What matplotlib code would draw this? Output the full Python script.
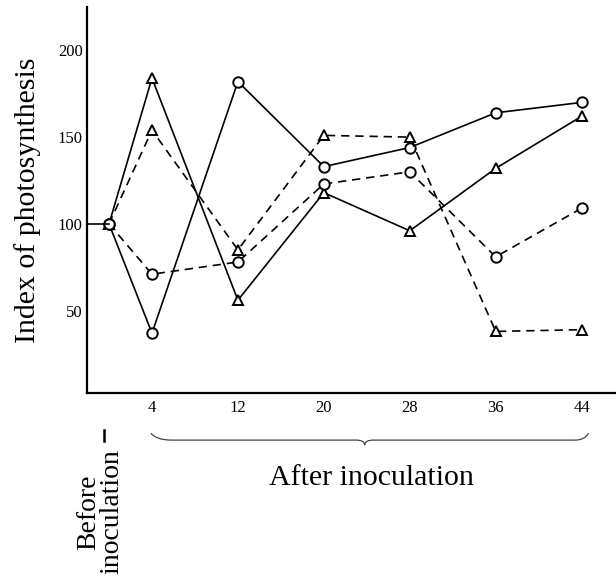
import matplotlib
matplotlib.use('Agg')
import matplotlib.pyplot as plt
from matplotlib.path import Path
from matplotlib.patches import PathPatch
import matplotlib.transforms as mtransforms

plt.rcParams['font.family'] = ['Liberation Serif', 'DejaVu Serif']

# hours (0 = before inoculation)
days = [0, 4, 12, 20, 28, 36, 44]
tick_days = [4, 12, 20, 28, 36, 44]
y_ticks = [50, 100, 150, 200]

solid_circle = [100, 37, 182, 133, 144, 164, 170]
solid_tri = [100, 184, 56, 118, 96, 132, 162]
dashed_tri = [100, 154, 85, 151, 150, 38, 39]
dashed_circle = [100, 71, 78, 123, 130, 81, 109]

fig = plt.figure(figsize=(6.16, 5.76), dpi=100)
ax = fig.add_axes([87 / 616, 183 / 576, 529 / 616, 386 / 576])

lw = 1.2
dash = (5, 3.5)
mk = dict(markersize=7.5, markerfacecolor='white', markeredgecolor='black',
          markeredgewidth=1.4, color='black', lw=lw, clip_on=False)

ax.plot(days, solid_circle, marker='o', ls='-', **mk)
ax.plot(days, solid_tri, marker='^', ls='-', **mk)
ax.plot(days, dashed_tri, marker='^', ls=(0, dash), **mk)
ax.plot(days, dashed_circle, marker='o', ls=(0, dash), **mk)

ax.set_xlim(-2.05, 47.2)
ax.set_ylim(2.5, 225)

# short lead-in line from the axis to the "before" point
x0 = ax.get_xlim()[0]
ax.plot([x0, days[0]], [solid_circle[0], solid_circle[0]], color='black', lw=lw, clip_on=False)

ax.set_xticks(tick_days)
ax.set_yticks(y_ticks)
ax.tick_params(length=0, labelsize=12)
ax.tick_params(axis='x', pad=5)
ax.tick_params(axis='y', pad=3)
for s in ['top', 'right']:
    ax.spines[s].set_visible(False)
for s in ['left', 'bottom']:
    ax.spines[s].set_linewidth(1.6)

ax.set_ylabel('Index of photosynthesis', fontsize=21.5, labelpad=12)

# brace under the "after" ticks
trans = mtransforms.blended_transform_factory(ax.transData, ax.transAxes)
verts = [(3.9, -0.104), (4.4, -0.122), (5.8, -0.122),
         (23.0, -0.122),
         (23.8, -0.122), (23.8, -0.135),
         (23.8, -0.122), (24.6, -0.122),
         (43.4, -0.122),
         (44.3, -0.122), (44.65, -0.104)]
codes = [Path.MOVETO, Path.CURVE3, Path.CURVE3,
         Path.LINETO,
         Path.CURVE3, Path.CURVE3,
         Path.CURVE3, Path.CURVE3,
         Path.LINETO,
         Path.CURVE3, Path.CURVE3]
ax.add_patch(PathPatch(Path(verts, codes), transform=trans, fill=False,
                       edgecolor='#444444', lw=0.9, clip_on=False))

# little tick marking "before"
ax.plot([-0.45, -0.45], [-0.096, -0.124], transform=trans, color='black',
        lw=1.8, clip_on=False)

fig.text(371 / 616, 1 - 478 / 576, 'After inoculation', fontsize=21.5,
         ha='center', va='center')
fig.text(100 / 616, 1 - 512 / 576, 'Before\ninoculation', fontsize=20,
         ha='center', va='center', rotation=90, linespacing=0.9,
         multialignment='center')

fig.savefig('out.png', dpi=100)
